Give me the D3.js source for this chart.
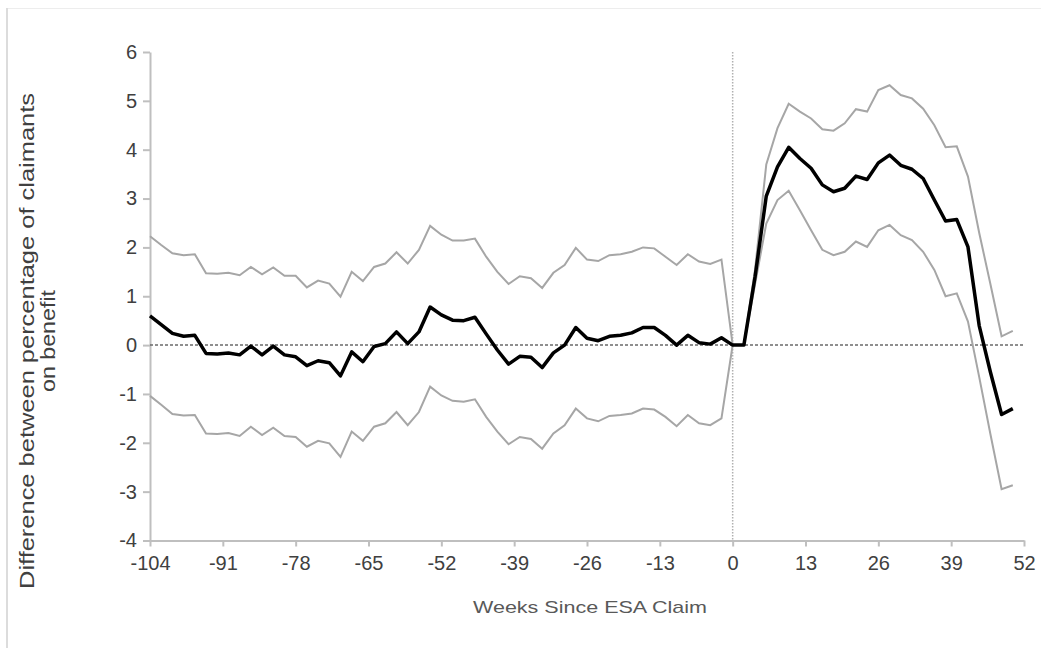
<!DOCTYPE html>
<html lang="en">
<head>
    <meta charset="UTF-8">
    <title>Weeks Since ESA Claim</title>
    <style>
        html, body { margin: 0; padding: 0; background: #fff; }
        svg { display: block; }
        .tick text { font-family: "Liberation Sans", Arial, sans-serif; font-size: 20px; fill: #404040; }
        .axis path, .axis line { stroke: #bfbfbf; stroke-width: 2; }
    </style>
</head>
<body>
    <svg id="chart" width="1041" height="648"></svg>
    <script src="https://d3js.org/d3.v7.min.js"></script>
    <script>
        // semaines depuis la demande (tous les 2)
        const weeks = [-104, -102, -100, -98, -96, -94, -92, -90, -88, -86, -84, -82, -80, -78,
            -76, -74, -72, -70, -68, -66, -64, -62, -60, -58, -56, -54, -52, -50, -48, -46,
            -44, -42, -40, -38, -36, -34, -32, -30, -28, -26, -24, -22, -20, -18, -16, -14,
            -12, -10, -8, -6, -4, -2, 0, 2, 4, 6, 8, 10, 12, 14, 16, 18, 20, 22, 24, 26, 28,
            30, 32, 34, 36, 38, 40, 42, 44, 46, 48, 50];

        const estimate = [0.6, 0.42, 0.24, 0.18, 0.2, -0.17, -0.18, -0.16, -0.2, -0.02, -0.2, -0.02, -0.2, -0.24,
            -0.42, -0.32, -0.36, -0.63, -0.14, -0.34, -0.03, 0.03, 0.27, 0.03, 0.27, 0.78, 0.62, 0.51, 0.5, 0.57,
            0.23, -0.1, -0.39, -0.23, -0.25, -0.46, -0.16, 0.0, 0.36, 0.14, 0.09, 0.18, 0.2, 0.25, 0.36, 0.36,
            0.2, 0.0, 0.2, 0.05, 0.02, 0.15, 0, 0, 1.4, 3.05, 3.65, 4.05, 3.82, 3.62, 3.28, 3.14, 3.21, 3.46, 3.39, 3.73, 3.89,
            3.68, 3.6, 3.41, 2.97, 2.54, 2.57, 2.01, 0.4, -0.55, -1.42, -1.3];

        const upper = [2.23, 2.05, 1.88, 1.84, 1.86, 1.47, 1.46, 1.48, 1.43, 1.6, 1.45, 1.59, 1.42, 1.42,
            1.18, 1.32, 1.26, 0.99, 1.5, 1.31, 1.6, 1.67, 1.9, 1.67, 1.95, 2.44, 2.26, 2.14, 2.14, 2.18,
            1.81, 1.5, 1.25, 1.41, 1.37, 1.17, 1.48, 1.64, 1.99, 1.75, 1.72, 1.84, 1.86, 1.91, 2.0, 1.98,
            1.81, 1.64, 1.86, 1.71, 1.66, 1.75, 0, 0, 1.55, 3.7, 4.44, 4.94, 4.78, 4.64, 4.42, 4.39, 4.54, 4.83, 4.78, 5.22, 5.32,
            5.12, 5.05, 4.84, 4.5, 4.05, 4.07, 3.45, 2.3, 1.25, 0.18, 0.29];

        const lower = [-1.04, -1.22, -1.41, -1.44, -1.43, -1.81, -1.82, -1.8, -1.86, -1.67, -1.84, -1.69, -1.86, -1.88,
            -2.08, -1.96, -2.01, -2.29, -1.77, -1.96, -1.67, -1.6, -1.37, -1.64, -1.37, -0.85, -1.03, -1.14, -1.16, -1.11,
            -1.47, -1.77, -2.03, -1.88, -1.92, -2.12, -1.81, -1.64, -1.3, -1.5, -1.56, -1.45, -1.43, -1.4, -1.3, -1.32,
            -1.47, -1.66, -1.43, -1.6, -1.64, -1.5, 0, 0, 1.25, 2.49, 2.97, 3.16, 2.76, 2.35, 1.95, 1.84, 1.91, 2.12, 2.01, 2.35, 2.46,
            2.25, 2.15, 1.91, 1.54, 1.0, 1.06, 0.48, -0.65, -1.82, -2.95, -2.87];

        const xTicks = [-104, -91, -78, -65, -52, -39, -26, -13, 0, 13, 26, 39, 52];
        const yTicks = [-4, -3, -2, -1, 0, 1, 2, 3, 4, 5, 6];

        const svg = d3.select("#chart");

        // cadre léger
        svg.append("line").attr("x1", 7).attr("x2", 7).attr("y1", 8).attr("y2", 648)
            .attr("stroke", "#dcdcdc").attr("stroke-width", 2);
        svg.append("line").attr("x1", 8).attr("x2", 1041).attr("y1", 8.5).attr("y2", 8.5)
            .attr("stroke", "#ededed").attr("stroke-width", 1);

        const x = d3.scaleLinear().domain([-104, 52]).range([150, 1024]);
        const y = d3.scaleLinear().domain([-4, 6]).range([540.5, 52]);

        // axes (trait d'union simple comme dans Excel)
        svg.append("g")
            .attr("class", "axis")
            .attr("transform", "translate(150,0)")
            .call(d3.axisLeft(y).tickValues(yTicks).tickSize(7).tickSizeOuter(0).tickPadding(6).tickFormat(d => String(d)));

        svg.append("g")
            .attr("class", "axis")
            .attr("transform", "translate(0,540.5)")
            .call(d3.axisBottom(x).tickValues(xTicks).tickSize(6).tickSizeOuter(0).tickPadding(9).tickFormat(d => String(d)));

        // lignes de référence
        svg.append("line")
            .attr("x1", x(-104)).attr("x2", x(52))
            .attr("y1", y(0)).attr("y2", y(0))
            .attr("stroke", "#6a6a6a").attr("stroke-width", 1.5)
            .attr("stroke-dasharray", "3,2");

        svg.append("line")
            .attr("x1", x(0)).attr("x2", x(0))
            .attr("y1", y(6)).attr("y2", y(-4))
            .attr("stroke", "#b0b0b0").attr("stroke-width", 1.5)
            .attr("stroke-dasharray", "1.5,1.5");

        const line = d3.line()
            .x((d, i) => x(weeks[i]))
            .y(d => y(d));

        svg.append("path").datum(upper)
            .attr("d", line).attr("fill", "none")
            .attr("stroke", "#a6a6a6").attr("stroke-width", 2);

        svg.append("path").datum(lower)
            .attr("d", line).attr("fill", "none")
            .attr("stroke", "#a6a6a6").attr("stroke-width", 2);

        svg.append("path").datum(estimate)
            .attr("d", line).attr("fill", "none")
            .attr("stroke", "#000").attr("stroke-width", 3.5)
            .attr("stroke-linejoin", "round");

        // titres
        const yTitle = svg.append("text")
            .attr("transform", "translate(34,341) rotate(-90)")
            .attr("text-anchor", "middle")
            .style("font-family", "'Liberation Sans', Arial, sans-serif")
            .style("font-size", "21px")
            .style("fill", "#404040");
        yTitle.append("tspan").attr("x", 0).attr("y", 0)
            .attr("textLength", 496).attr("lengthAdjust", "spacingAndGlyphs")
            .text("Difference between percentage of claimants");
        yTitle.append("tspan").attr("x", 0).attr("y", 21)
            .attr("textLength", 102).attr("lengthAdjust", "spacingAndGlyphs")
            .text("on benefit");

        svg.append("text")
            .attr("x", 590).attr("y", 613)
            .attr("text-anchor", "middle")
            .attr("textLength", 234).attr("lengthAdjust", "spacingAndGlyphs")
            .style("font-family", "'Liberation Sans Narrow', 'Liberation Sans', Arial, sans-serif")
            .style("font-size", "17px")
            .style("fill", "#595959")
            .text("Weeks Since ESA Claim");
    </script>
</body>
</html>
